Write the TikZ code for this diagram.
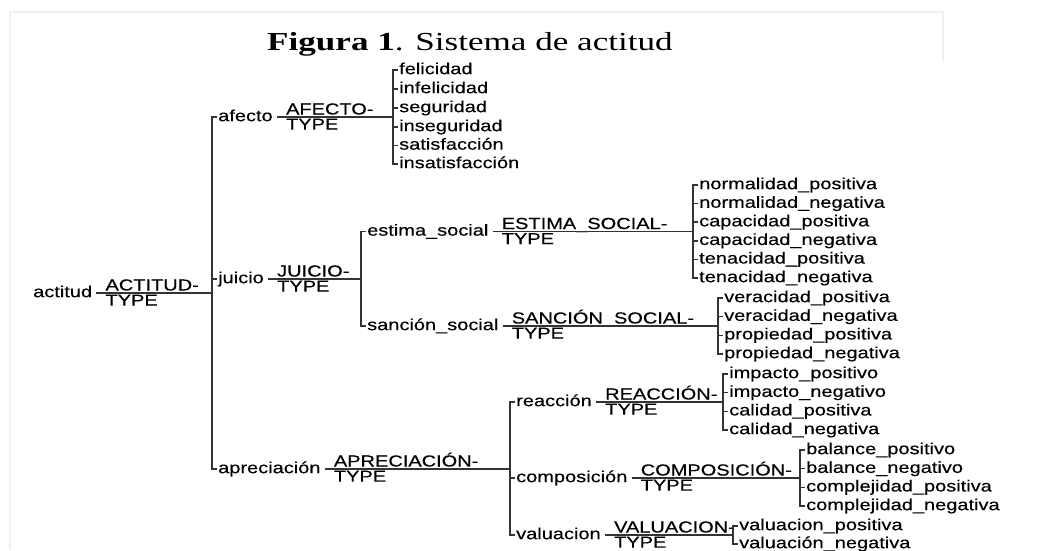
\documentclass[tikz,border=0pt]{standalone}
\usepackage{fontspec}
\usepackage{tikz}
\usetikzlibrary{positioning}
\newfontfamily\treefont[FakeStretch=1.25, FakeBold=0.3]{Liberation Sans}
\newfontfamily\titlefont[FakeStretch=1.35]{Liberation Serif}

\begin{document}
\begin{tikzpicture}[x=1pt, y=-1pt]
\tikzstyle{lab} = [inner xsep=1pt, inner ysep=0pt, text height=8.3pt, text depth=0pt, anchor=west, text=black, font=\treefont\fontsize{16}{17}\selectfont]
\tikzstyle{leaf} = [lab]
\tikzstyle{typa} = [inner sep=0pt, text=black, font=\treefont\fontsize{16}{17}\selectfont]
\tikzstyle{typb} = [typa]
\tikzstyle{conn} = [draw=black!80, line width=1.5pt]
\useasboundingbox (0,0) rectangle (1057,550);
\draw[black!6, line width=1.5pt] (10,550) -- (10,12) -- (943,12) -- (943,61);
\node[anchor=base west, inner sep=0pt, font=\titlefont\fontsize{26}{26}\selectfont] (titulo) at (267,50) {\textbf{Figura 1}. Sistema de actitud};

% root
\node[lab] (actitud) at (32,293) {actitud};
\node[typa, right=12pt of actitud.east, anchor=base west, yshift=2.5pt] (ACTITUD) {ACTITUD-};
\node[typb, below=4pt of ACTITUD.base west, anchor=north west] (actitudTYPE) {TYPE};

% first level
\node[lab] (afecto) at (217,117) {afecto};
\node[typa, right=12pt of afecto.east, anchor=base west, yshift=2.5pt] (AFECTO) {AFECTO-};
\node[typb, below=4pt of AFECTO.base west, anchor=north west] (afectoTYPE) {TYPE};
\node[lab] (juicio) at (217,279) {juicio};
\node[typa, right=12pt of juicio.east, anchor=base west, yshift=2.5pt] (JUICIO) {JUICIO-};
\node[typb, below=4pt of JUICIO.base west, anchor=north west] (juicioTYPE) {TYPE};
\node[lab] (apreciacion) at (217,469) {apreciación};
\node[typa, right=12pt of apreciacion.east, anchor=base west, yshift=2.5pt] (APRECIACION) {APRECIACIÓN-};
\node[typb, below=4pt of APRECIACION.base west, anchor=north west] (apreciacionTYPE) {TYPE};

% afecto
\node[leaf] (felicidad) at (398,70) {felicidad};
\node[leaf] (infelicidad) at (398,89) {infelicidad};
\node[leaf] (seguridad) at (398,108) {seguridad};
\node[leaf] (inseguridad) at (398,127) {inseguridad};
\node[leaf] (satisfaccion) at (398,145.5) {satisfacción};
\node[leaf] (insatisfaccion) at (398,164) {insatisfacción};

% juicio
\node[lab] (estima) at (366,231.5) {estima\_social};
\node[typa, right=12pt of estima.east, anchor=base west, yshift=2.5pt] (ESTIMA) {ESTIMA\_SOCIAL-};
\node[typb, below=4pt of ESTIMA.base west, anchor=north west] (estimaTYPE) {TYPE};
\node[lab] (sancion) at (366,326) {sanción\_social};
\node[typa, right=12pt of sancion.east, anchor=base west, yshift=2.5pt] (SANCION) {SANCIÓN\_SOCIAL-};
\node[typb, below=4pt of SANCION.base west, anchor=north west] (sancionTYPE) {TYPE};

\node[leaf] (normPos) at (698,185) {normalidad\_positiva};
\node[leaf] (normNeg) at (698,203.6) {normalidad\_negativa};
\node[leaf] (capPos) at (698,222.2) {capacidad\_positiva};
\node[leaf] (capNeg) at (698,240.8) {capacidad\_negativa};
\node[leaf] (tenPos) at (698,259.4) {tenacidad\_positiva};
\node[leaf] (tenNeg) at (698,278) {tenacidad\_negativa};

\node[leaf] (verPos) at (723,298) {veracidad\_positiva};
\node[leaf] (verNeg) at (723,316.7) {veracidad\_negativa};
\node[leaf] (propPos) at (723,335.3) {propiedad\_positiva};
\node[leaf] (propNeg) at (723,354) {propiedad\_negativa};

% apreciacion
\node[lab] (reaccion) at (515,402) {reacción};
\node[typa, right=12pt of reaccion.east, anchor=base west, yshift=2.5pt] (REACCION) {REACCIÓN-};
\node[typb, below=4pt of REACCION.base west, anchor=north west] (reaccionTYPE) {TYPE};
\node[lab] (composicion) at (515,478) {composición};
\node[typa, right=12pt of composicion.east, anchor=base west, yshift=2.5pt] (COMPOSICION) {COMPOSICIÓN-};
\node[typb, below=4pt of COMPOSICION.base west, anchor=north west] (composicionTYPE) {TYPE};
\node[lab] (valuacion) at (515,535) {valuacion};
\node[typa, right=12pt of valuacion.east, anchor=base west, yshift=2.5pt] (VALUACION) {VALUACION-};
\node[typb, below=4pt of VALUACION.base west, anchor=north west] (valuacionTYPE) {TYPE};

\node[leaf] (impPos) at (728,374) {impacto\_positivo};
\node[leaf] (impNeg) at (728,392.7) {impacto\_negativo};
\node[leaf] (calPos) at (728,411.3) {calidad\_positiva};
\node[leaf] (calNeg) at (728,430) {calidad\_negativa};

\node[leaf] (balPos) at (805,450) {balance\_positivo};
\node[leaf] (balNeg) at (805,468.7) {balance\_negativo};
\node[leaf] (compPos) at (805,487.3) {complejidad\_positiva};
\node[leaf] (compNeg) at (805,506) {complejidad\_negativa};

\node[leaf] (valPos) at (738,526) {valuacion\_positiva};
\node[leaf] (valNeg) at (738,544) {valuación\_negativa};

% lines to the brackets
\draw[conn] ([xshift=3pt]actitud.east) -- ([xshift=-5pt]afecto.west |- actitud.east);
\draw[conn] ([xshift=3pt]afecto.east) -- ([xshift=-5pt]felicidad.west |- afecto.east);
\draw[conn] ([xshift=3pt]juicio.east) -- ([xshift=-5pt]estima.west |- juicio.east);
\draw[conn] ([xshift=3pt]apreciacion.east) -- ([xshift=-5pt]reaccion.west |- apreciacion.east);
\draw[conn] ([xshift=3pt]estima.east) -- ([xshift=-5pt]normPos.west |- estima.east);
\draw[conn] ([xshift=3pt]sancion.east) -- ([xshift=-5pt]verPos.west |- sancion.east);
\draw[conn] ([xshift=3pt]reaccion.east) -- ([xshift=-5pt]impPos.west |- reaccion.east);
\draw[conn] ([xshift=3pt]composicion.east) -- ([xshift=-5pt]balPos.west |- composicion.east);
\draw[conn] ([xshift=3pt]valuacion.east) -- ([xshift=-5pt]valPos.west |- valuacion.east);

% brackets
\draw[conn] (afecto.west) -- ++(-5pt,0) |- (apreciacion.west);
\draw[conn] (juicio.west) -- ++(-5pt,0);
\draw[conn] (felicidad.west) -- ++(-5pt,0) |- (insatisfaccion.west);
\draw[conn] (infelicidad.west) -- ++(-5pt,0);
\draw[conn] (seguridad.west) -- ++(-5pt,0);
\draw[conn] (inseguridad.west) -- ++(-5pt,0);
\draw[conn] (satisfaccion.west) -- ++(-5pt,0);
\draw[conn] (estima.west) -- ++(-5pt,0) |- (sancion.west);
\draw[conn] (normPos.west) -- ++(-5pt,0) |- (tenNeg.west);
\draw[conn] (normNeg.west) -- ++(-5pt,0);
\draw[conn] (capPos.west) -- ++(-5pt,0);
\draw[conn] (capNeg.west) -- ++(-5pt,0);
\draw[conn] (tenPos.west) -- ++(-5pt,0);
\draw[conn] (verPos.west) -- ++(-5pt,0) |- (propNeg.west);
\draw[conn] (verNeg.west) -- ++(-5pt,0);
\draw[conn] (propPos.west) -- ++(-5pt,0);
\draw[conn] (reaccion.west) -- ++(-5pt,0) |- (valuacion.west);
\draw[conn] (composicion.west) -- ++(-5pt,0);
\draw[conn] (impPos.west) -- ++(-5pt,0) |- (calNeg.west);
\draw[conn] (impNeg.west) -- ++(-5pt,0);
\draw[conn] (calPos.west) -- ++(-5pt,0);
\draw[conn] (balPos.west) -- ++(-5pt,0) |- (compNeg.west);
\draw[conn] (balNeg.west) -- ++(-5pt,0);
\draw[conn] (compPos.west) -- ++(-5pt,0);
\draw[conn] (valPos.west) -- ++(-5pt,0) |- (valNeg.west);
\end{tikzpicture}
\end{document}
